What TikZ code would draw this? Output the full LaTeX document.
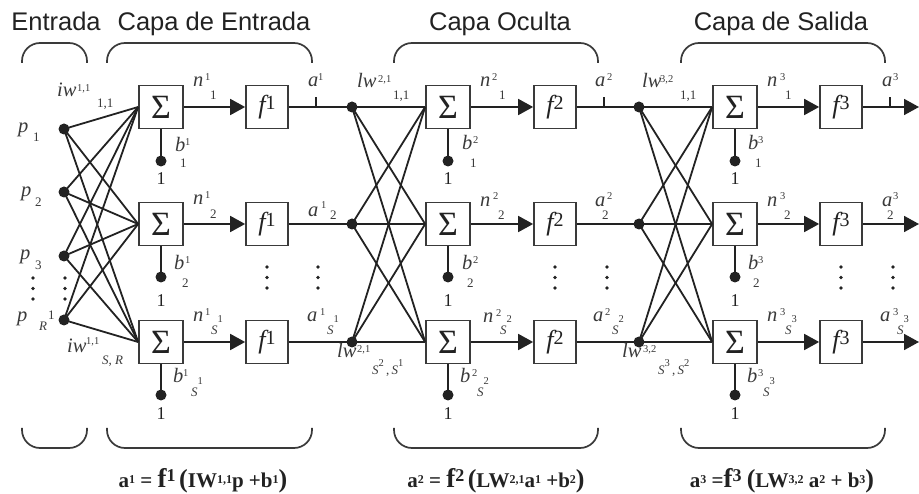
\documentclass[tikz,border=0pt]{standalone}
\usepackage{fontspec}
\setmainfont{Liberation Serif}
\newfontfamily\headfont{Liberation Sans}
\usetikzlibrary{arrows.meta}

\definecolor{ink}{HTML}{222222}
\definecolor{soft}{HTML}{3a3a3a}

% label fonts
\newcommand\lf{\fontsize{20.5}{20.5}\selectfont\itshape}
\newcommand\supf{\fontsize{10.5}{10.5}\selectfont\upshape}
\newcommand\subf{\fontsize{13}{13}\selectfont\upshape}
% subscript S carrying a layer number
\newcommand\Ssub[1]{\textit{S}\raisebox{12pt}{\supf #1}}
\newcommand\Spair[2]{\textit{S}\raisebox{8pt}{\supf #1}\,,\,\textit{S}\raisebox{8pt}{\supf #2}}
% formula helpers
\newcommand\fsd[1]{\raisebox{3.5pt}{\fontsize{12}{12}\selectfont\bfseries #1}}
\newcommand\ff[1]{{\fontsize{27}{27}\selectfont\bfseries f}\raisebox{6pt}{\fontsize{18}{18}\selectfont\bfseries #1}}
\newcommand\bigp[1]{{\fontsize{26}{26}\selectfont #1}}

\begin{document}
\begin{tikzpicture}[x=1pt,y=-1pt,
  wire/.style={line width=1.8pt, draw=ink},
  arr/.style={wire, -{Triangle[length=15pt,width=16pt]}},
  sumbox/.style={draw=soft, line width=1.7pt, fill=white, inner sep=0pt,
    minimum width=44pt, minimum height=43pt,
    font=\fontsize{34}{34}\selectfont, text=ink},
  fbox/.style={draw=soft, line width=1.7pt, fill=white, inner sep=0pt,
    minimum width=42pt, minimum height=43pt, text=ink},
  dot/.style={circle, fill=ink, inner sep=0pt, minimum size=11pt},
  lab/.style={inner sep=0pt, anchor=base west, font=\lf, text=soft},
  sp/.style={inner sep=0pt, anchor=base west, font=\supf, text=soft},
  sb/.style={inner sep=0pt, anchor=base west, font=\subf, text=soft},
  one/.style={inner sep=0pt, anchor=base, font=\fontsize{18}{18}\selectfont, text=ink},
  title/.style={inner sep=0pt, anchor=base, font=\headfont\fontsize{25.5}{25.5}\selectfont, text=ink},
  formula/.style={inner sep=0pt, anchor=base, font=\fontsize{21}{21}\selectfont\bfseries, text=ink},
  brk/.style={line width=1.7pt, draw=soft, rounded corners=18pt},
  vd/.style={fill=ink}
]
\useasboundingbox (0,0) rectangle (919,494);

% ---------- titles ----------
\node[title] (tin)  at (56,31)  {Entrada};
\node[title] (tl1)  at (214,31) {Capa de Entrada};
\node[title] (tl2)  at (500,31) {Capa Oculta};
\node[title] (tl3)  at (781,31) {Capa de Salida};

% ---------- braces ----------
\foreach \xa/\xb in {22/87, 107/312, 394/598, 681/885} {
  \draw[brk] (\xa,63) -- (\xa,43) -- (\xb,43) -- (\xb,63);
  \draw[brk] (\xa,428) -- (\xa,448) -- (\xb,448) -- (\xb,428);
}

% ---------- input points ----------
\node[dot] (p1) at (64,129) {};
\node[dot] (p2) at (64,192) {};
\node[dot] (p3) at (64,256) {};
\node[dot] (pR) at (64,320) {};

% ---------- neurons ----------
\foreach \r/\y in {1/107, 2/224, 3/342} {
  \node[sumbox] (s1\r) at (161,\y) {Σ};
  \node[sumbox] (s2\r) at (448,\y) {Σ};
  \node[sumbox] (s3\r) at (735,\y) {Σ};
  \node[fbox] (f1\r) at (267,\y) {{\fontsize{26}{26}\selectfont\itshape f}\raisebox{4pt}{\fontsize{20}{20}\selectfont 1}};
  \node[fbox] (f2\r) at (555,\y) {{\fontsize{26}{26}\selectfont\itshape f}\raisebox{4pt}{\fontsize{20}{20}\selectfont 2}};
  \node[fbox] (f3\r) at (841,\y) {{\fontsize{26}{26}\selectfont\itshape f}\raisebox{4pt}{\fontsize{20}{20}\selectfont 3}};
  \node[dot] (j2\r) at (352,\y) {};
  \node[dot] (j3\r) at (639,\y) {};
  \coordinate (o\r) at (919,\y);
}
% bias inputs and their constant 1
\foreach \L/\x in {1/161, 2/448, 3/735} {
  \node[dot] (bd\L1) at (\x,161) {};
  \node[dot] (bd\L2) at (\x,277) {};
  \node[dot] (bd\L3) at (\x,395) {};
  \node[one] (one\L1) at (\x,185) {1};
  \node[one] (one\L2) at (\x,307) {1};
  \node[one] (one\L3) at (\x,420) {1};
  \foreach \r in {1,2,3} {
    \draw[wire] (s\L\r.south) -- (bd\L\r.center);
    \draw[arr] (s\L\r.east) -- (f\L\r.west);
  }
}

% ---------- weight connections ----------
\foreach \p in {p1,p2,p3,pR}
  \foreach \r in {1,2,3}
    \draw[wire] (\p.center) -- (s1\r.west);
\foreach \a in {1,2,3}
  \foreach \r in {1,2,3} {
    \draw[wire] (j2\a.center) -- (s2\r.west);
    \draw[wire] (j3\a.center) -- (s3\r.west);
  }

% layer outputs
\foreach \r in {1,2,3} {
  \draw[wire] (f1\r.east) -- (j2\r.center);
  \draw[wire] (f2\r.east) -- (j3\r.center);
  \draw[arr] (f3\r.east) -- (o\r);
}
% output ticks
\foreach \k/\x in {1/316, 2/604, 3/890} {
  \coordinate (tk\k) at (\x,107);
  \coordinate (tu\k) at (\x,97);
  \draw[wire, line width=1.3pt] (tk\k) -- (tu\k);
}

% ---------- ellipsis dots ----------
\foreach \x/\y in {33/278, 65/278, 267/267, 318/267, 555/267, 607/267, 841/267, 893/267}
  \foreach \k in {0,1,2}
    \fill[vd] (\x,\y+\k*10.5) circle (1.8pt);

% ---------- input labels ----------
\node[lab] (lp1) at (18,133) {p};  \node[sb] (lp1s) at (33,142) {1};
\node[lab] (lp2) at (21,197) {p};  \node[sb] (lp2s) at (35,207) {2};
\node[lab] (lp3) at (20,260) {p};  \node[sb] (lp3s) at (35,270) {3};
\node[lab] (lpR) at (17,322) {p};  \node[sb] (lpRs) at (39,331) {\textit{R}};
\node[sb] (lpRu) at (48,320) {1};

% ---------- weight labels ----------
\node[lab] (w11) at (57,97) {iw};   \node[sp] (w11u) at (77,92) {1,1};   \node[sb] (w11s) at (97,108) {1,1};
\node[lab] (w13) at (67,353) {iw};  \node[sp] (w13u) at (86,345) {1,1};  \node[sb] (w13s) at (102,365) {\textit{S}, \textit{R}};
\node[lab] (w21) at (357,88) {lw};  \node[sp] (w21u) at (378,83) {2,1};  \node[sb] (w21s) at (393,100) {1,1};
\node[lab] (w23) at (337,358) {lw}; \node[sp] (w23u) at (357,353) {2,1}; \node[sb] (w23s) at (372,375) {\Spair{2}{1}};
\node[lab] (w31) at (642,88) {lw};  \node[sp] (w31u) at (660,83) {3,2};  \node[sb] (w31s) at (680,100) {1,1};
\node[lab] (w33) at (622,358) {lw}; \node[sp] (w33u) at (643,353) {3,2}; \node[sb] (w33s) at (658,375) {\Spair{3}{2}};

% ---------- layer 1 labels ----------
\node[lab] (n11) at (193,87)  {n}; \node[sp] (n11u) at (205,81)  {1}; \node[sb] (n11s) at (210,100) {1};
\node[lab] (n12) at (193,205) {n}; \node[sp] (n12u) at (205,199) {1}; \node[sb] (n12s) at (210,219) {2};
\node[lab] (n13) at (193,322) {n}; \node[sp] (n13u) at (205,316) {1}; \node[sb] (n13s) at (211,335) {\Ssub{1}};
\node[lab] (b11) at (175,152) {b}; \node[sp] (b11u) at (185,146) {1}; \node[sb] (b11s) at (180,168) {1};
\node[lab] (b12) at (174,270) {b}; \node[sp] (b12u) at (185,264) {1}; \node[sb] (b12s) at (182,288) {2};
\node[lab] (b13) at (173,383) {b}; \node[sp] (b13u) at (183,377) {1}; \node[sb] (b13s) at (191,397) {\Ssub{1}};
\node[lab] (a11) at (308,87)  {a}; \node[sp] (a11u) at (318,81)  {1};
\node[lab] (a12) at (308,217) {a}; \node[sp] (a12u) at (321,209) {1}; \node[sb] (a12s) at (330,220) {2};
\node[lab] (a13) at (307,322) {a}; \node[sp] (a13u) at (320,316) {1}; \node[sb] (a13s) at (327,335) {\Ssub{1}};

% ---------- layer 2 labels ----------
\node[lab] (n21) at (480,87)  {n}; \node[sp] (n21u) at (492,81)  {2}; \node[sb] (n21s) at (499,100) {1};
\node[lab] (n22) at (480,207) {n}; \node[sp] (n22u) at (493,200) {2}; \node[sb] (n22s) at (498,220) {2};
\node[lab] (n23) at (483,323) {n}; \node[sp] (n23u) at (496,317) {2}; \node[sb] (n23s) at (500,335) {\Ssub{2}};
\node[lab] (b21) at (462,150) {b}; \node[sp] (b21u) at (473,144) {2}; \node[sb] (b21s) at (470,168) {1};
\node[lab] (b22) at (462,270) {b}; \node[sp] (b22u) at (473,264) {2}; \node[sb] (b22s) at (467,288) {2};
\node[lab] (b23) at (460,383) {b}; \node[sp] (b23u) at (472,377) {2}; \node[sb] (b23s) at (477,397) {\Ssub{2}};
\node[lab] (a21) at (595,87)  {a}; \node[sp] (a21u) at (607,81)  {2};
\node[lab] (a22) at (595,207) {a}; \node[sp] (a22u) at (607,200) {2}; \node[sb] (a22s) at (602,220) {2};
\node[lab] (a23) at (593,322) {a}; \node[sp] (a23u) at (605,316) {2}; \node[sb] (a23s) at (612,335) {\Ssub{2}};

% ---------- layer 3 labels ----------
\node[lab] (n31) at (767,87)  {n}; \node[sp] (n31u) at (780,81)  {3}; \node[sb] (n31s) at (785,100) {1};
\node[lab] (n32) at (767,207) {n}; \node[sp] (n32u) at (780,200) {3}; \node[sb] (n32s) at (784,220) {2};
\node[lab] (n33) at (767,322) {n}; \node[sp] (n33u) at (780,316) {3}; \node[sb] (n33s) at (785,335) {\Ssub{3}};
\node[lab] (b31) at (748,150) {b}; \node[sp] (b31u) at (758,144) {3}; \node[sb] (b31s) at (755,168) {1};
\node[lab] (b32) at (748,270) {b}; \node[sp] (b32u) at (758,264) {3}; \node[sb] (b32s) at (753,288) {2};
\node[lab] (b33) at (747,383) {b}; \node[sp] (b33u) at (758,377) {3}; \node[sb] (b33s) at (763,397) {\Ssub{3}};
\node[lab] (a31) at (882,87)  {a}; \node[sp] (a31u) at (893,81)  {3};
\node[lab] (a32) at (882,207) {a}; \node[sp] (a32u) at (893,200) {3}; \node[sb] (a32s) at (887,220) {2};
\node[lab] (a33) at (880,322) {a}; \node[sp] (a33u) at (893,316) {3}; \node[sb] (a33s) at (897,335) {\Ssub{3}};

% ---------- layer equations ----------
\node[formula] (eq1) at (203,487) {a\fsd{1} = \ff{1}\,\bigp{(}IW\fsd{1,1}p +b\fsd{1}\bigp{)}};
\node[formula] (eq2) at (496,487) {a\fsd{2} = \ff{2}\,\bigp{(}LW\fsd{2,1}a\fsd{1} +b\fsd{2}\bigp{)}};
\node[formula] (eq3) at (782,487) {a\fsd{3} =\ff{3} \bigp{(}LW\fsd{3,2} a\fsd{2} + b\fsd{3}\bigp{)}};
\end{tikzpicture}
\end{document}
